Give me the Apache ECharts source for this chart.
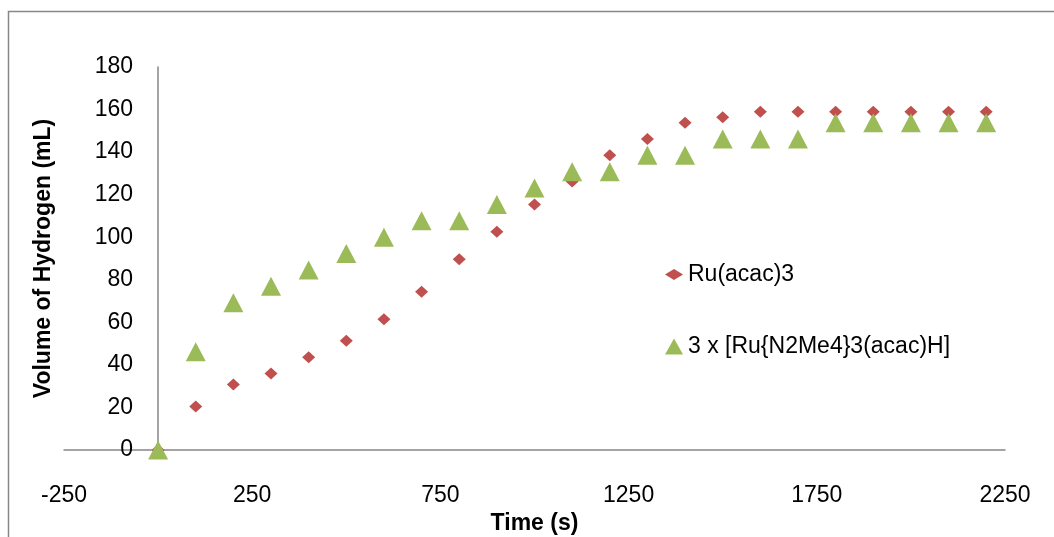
<!DOCTYPE html>
<html lang="en">
<head>
    <meta charset="UTF-8">
    <title>Volume of Hydrogen vs Time</title>
    <script src="https://cdn.jsdelivr.net/npm/echarts/dist/echarts.min.js"></script>
    <style>
        body {
            margin: 0;
            padding: 0;
            background-color: white;
            overflow: hidden;
        }
        #main {
            width: 1054px;
            height: 537px;
        }
    </style>
</head>
<body>
    <div id="main"></div>

    <script type="text/javascript">
        // time points (s)
        var times = [0, 100, 200, 300, 400, 500, 600, 700, 800, 900, 1000, 1100,
                     1200, 1300, 1400, 1500, 1600, 1700, 1800, 1900, 2000, 2100, 2200];

        // Ru(acac)3
        var ruAcac = [0, 20.5, 30.8, 35.9, 43.6, 51.3, 61.5, 74.4, 89.7, 102.6, 115.4, 126.2,
                      138.5, 146.2, 153.8, 156.4, 159.0, 159.0, 159.0, 159.0, 159.0, 159.0, 159.0];

        // 3 x [Ru{N2Me4}3(acac)H]
        var ruN2Me4 = [0, 46.2, 69.2, 76.9, 84.6, 92.3, 100.0, 107.7, 107.7, 115.4, 123.1, 130.8,
                       130.8, 138.5, 138.5, 146.2, 146.2, 146.2, 153.8, 153.8, 153.8, 153.8, 153.8];

        var seriesNames = ['Ru(acac)3', '3 x [Ru{N2Me4}3(acac)H]'];

        var fontFamily = '"Liberation Sans", Arial, sans-serif';
        var axisColor = '#878787';

        // y axis line sits at x = 0, labels are placed next to it (94px right of grid edge)
        var yShift = 94;

        function pairs(ys) {
            return times.map(function (t, i) { return [t, ys[i]]; });
        }

        var myChart = echarts.init(document.getElementById('main'));

        var option = {
            animation: false,
            textStyle: { fontFamily: fontFamily, color: '#000' },
            graphic: [{
                type: 'rect',
                shape: { x: 8.5, y: 11.5, width: 1100, height: 600 },
                style: { fill: 'none', stroke: axisColor, lineWidth: 1.5 },
                silent: true
            }],
            legend: [
                {
                    data: [seriesNames[0]],
                    orient: 'vertical',
                    left: 665,
                    top: 263,
                    padding: 0,
                    itemWidth: 18,
                    itemHeight: 11,
                    textStyle: { fontSize: 23, color: '#000', fontFamily: fontFamily }
                },
                {
                    data: [seriesNames[1]],
                    orient: 'vertical',
                    left: 665,
                    top: 335,
                    padding: 0,
                    itemWidth: 18,
                    itemHeight: 16,
                    textStyle: { fontSize: 23, color: '#000', fontFamily: fontFamily }
                }
            ],
            grid: {
                left: 64,
                right: 49,
                top: 67,
                bottom: 87,
                containLabel: false,
                outerBoundsMode: 'none'
            },
            xAxis: {
                type: 'value',
                min: -250,
                max: 2250,
                interval: 500,
                name: 'Time (s)',
                nameLocation: 'middle',
                nameGap: 62,
                nameTextStyle: { fontSize: 23, fontWeight: 'bold', color: '#000' },
                axisLine: { lineStyle: { color: axisColor, width: 1.5 } },
                axisTick: { show: false },
                splitLine: { show: false },
                axisLabel: {
                    fontSize: 23, color: '#000', margin: 34,
                    formatter: function (v) { return String(v); }
                }
            },
            yAxis: {
                type: 'value',
                min: 0,
                max: 180,
                interval: 20,
                name: 'Volume of Hydrogen (mL)',
                nameLocation: 'middle',
                nameGap: 103 - yShift,
                nameTextStyle: { fontSize: 23, fontWeight: 'bold', color: '#000' },
                axisLine: { show: true, onZero: true, lineStyle: { color: axisColor, width: 1.5 } },
                axisTick: { show: false },
                splitLine: { show: false },
                axisLabel: { fontSize: 23, color: '#000', margin: 25 - yShift }
            },
            series: [
                {
                    name: seriesNames[0],
                    type: 'scatter',
                    symbol: 'diamond',
                    symbolSize: [13, 12],
                    itemStyle: { color: '#C0504D', opacity: 1 },
                    data: pairs(ruAcac)
                },
                {
                    name: seriesNames[1],
                    type: 'scatter',
                    symbol: 'triangle',
                    symbolSize: [20, 19],
                    itemStyle: { color: '#9BBB59', opacity: 1 },
                    data: pairs(ruN2Me4)
                }
            ]
        };

        myChart.setOption(option);
    </script>
</body>
</html>
